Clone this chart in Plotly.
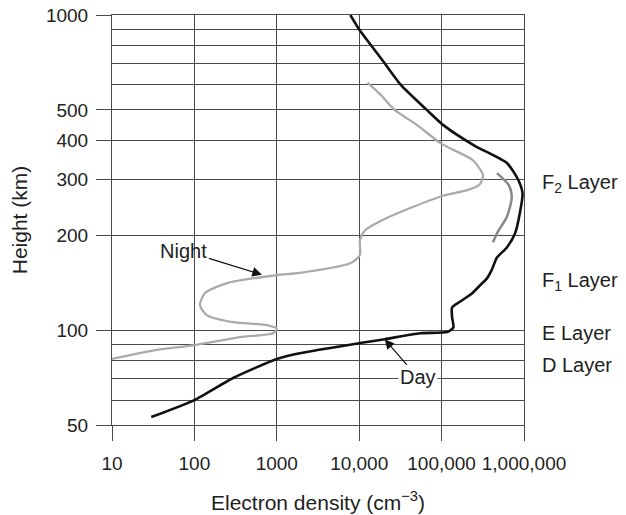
import plotly.graph_objects as go
import math

# Day profile (electron density cm^-3, height km)
day_density = [30, 100, 295, 1000, 1900, 10200, 20400, 55000, 117000, 139000, 134000, 134000,
               167000, 235000, 295000, 355000, 405000, 470000, 620000, 780000, 890000, 960000,
               850000, 620000, 250000, 104000, 66000, 32000, 20600, 14000, 10000, 7800]
day_height = [53, 60, 70.5, 81, 84.5, 91, 93.6, 97.8, 98.6, 102, 110, 118,
              123, 131, 139, 146, 155, 170, 183, 203, 235, 271,
              300, 339, 385, 448, 500, 600, 700, 800, 900, 1000]

# Night profile
night_density = [10, 35, 96, 357, 900, 1000, 760, 293, 141, 117, 134, 250, 1000, 1900, 7800,
                 10200, 10200, 11700, 19500, 41700, 104000, 205000, 290000, 318000, 240000,
                 100000, 50000, 27000, 18000, 12600]
night_height = [81, 86.5, 89.5, 95, 97.8, 101, 103.7, 106, 111.6, 120, 131, 141, 149.5, 152, 163,
                173, 193, 207, 224, 244, 267, 278, 290, 310, 346,
                390, 448, 500, 560, 610]

# Short F2 segment
f2_density = [470000, 650000, 710000, 620000, 480000, 420000]
f2_height = [315, 289, 264, 229, 205, 190]

x_ticks = [10, 100, 1000, 10000, 100000, 1000000]
x_labels = ["10", "100", "1000", "10,000", "100,000", "1,000,000"]
y_ticks = [50, 100, 200, 300, 400, 500, 1000]
y_minor = [60, 70, 80, 90, 600, 700, 800, 900]

layer_names = ["F<sub>2</sub> Layer", "F<sub>1</sub> Layer", "E Layer", "D Layer"]
layer_heights = [292, 143, 98, 77.5]

FONT = "Liberation Sans, Arial, sans-serif"
GRID = "#4a4a4a"
TXT = "#222222"
FS = 19
FT = 21

fig = go.Figure()
fig.add_trace(go.Scatter(x=night_density, y=night_height, mode="lines",
                         line=dict(color="#aaaaaa", width=2.3, shape="spline", smoothing=0.7),
                         hoverinfo="skip"))
fig.add_trace(go.Scatter(x=f2_density, y=f2_height, mode="lines",
                         line=dict(color="#888888", width=2.5, shape="spline", smoothing=0.7),
                         hoverinfo="skip"))
fig.add_trace(go.Scatter(x=day_density, y=day_height, mode="lines",
                         line=dict(color="#111111", width=2.6, shape="spline", smoothing=0.6),
                         hoverinfo="skip"))

for name, h in zip(layer_names, layer_heights):
    fig.add_annotation(text=name, xref="paper", x=1.04, xanchor="left",
                       y=math.log10(h), yref="y", showarrow=False,
                       font=dict(family=FONT, size=20, color=TXT))

# Night arrow annotation
fig.add_annotation(text="Night", x=math.log10(660), y=math.log10(150), ax=-78, ay=-24,
                   showarrow=True, arrowhead=2, arrowsize=1.6, arrowwidth=1.2,
                   arrowcolor="#111", font=dict(family=FONT, size=20, color=TXT))
# Day arrow annotation
fig.add_annotation(text="Day", x=math.log10(20400), y=math.log10(93.5), ax=33, ay=38,
                   showarrow=True, arrowhead=2, arrowsize=1.6, arrowwidth=1.2,
                   arrowcolor="#111", bgcolor="white", borderpad=1,
                   font=dict(family=FONT, size=20, color=TXT))

fig.update_layout(
    width=626, height=515,
    margin=dict(l=112, r=102, t=15, b=90, autoexpand=False),
    paper_bgcolor="white", plot_bgcolor="white",
    showlegend=False,
    font=dict(family=FONT, size=FS, color=TXT),
    xaxis=dict(type="log", range=[1, 6], tickvals=x_ticks, ticktext=x_labels,
               automargin=False, ticklabelstandoff=6, ticklabeloverflow="allow", tickangle=0,
               showgrid=True, gridcolor=GRID, gridwidth=1,
               ticks="outside", ticklen=15, tickcolor=GRID, tickwidth=1,
               showline=True, linecolor=GRID, linewidth=1, mirror=True,
               tickfont=dict(family=FONT, size=FS, color=TXT),
               title=dict(text="Electron density (cm<sup>−3</sup>)",
                          font=dict(family=FONT, size=FT, color=TXT), standoff=22)),
    yaxis=dict(type="log", range=[math.log10(50), 3], tickvals=y_ticks,
               ticktext=[str(v) for v in y_ticks],
               automargin=False, ticklabelstandoff=4, ticklabeloverflow="allow",
               showgrid=True, gridcolor=GRID, gridwidth=1,
               ticks="outside", ticklen=15, tickcolor=GRID, tickwidth=1,
               showline=True, linecolor=GRID, linewidth=1, mirror=True,
               minor=dict(tickvals=y_minor, showgrid=True, gridcolor=GRID, gridwidth=1, ticks=""),
               tickfont=dict(family=FONT, size=FS, color=TXT),
               title=dict(text="Height (km)", font=dict(family=FONT, size=FT, color=TXT),
                          standoff=12)),
)

fig.write_html("out.html", config={"displayModeBar": False},
               post_script="document.body.style.margin='0';document.body.style.overflow='hidden';")
